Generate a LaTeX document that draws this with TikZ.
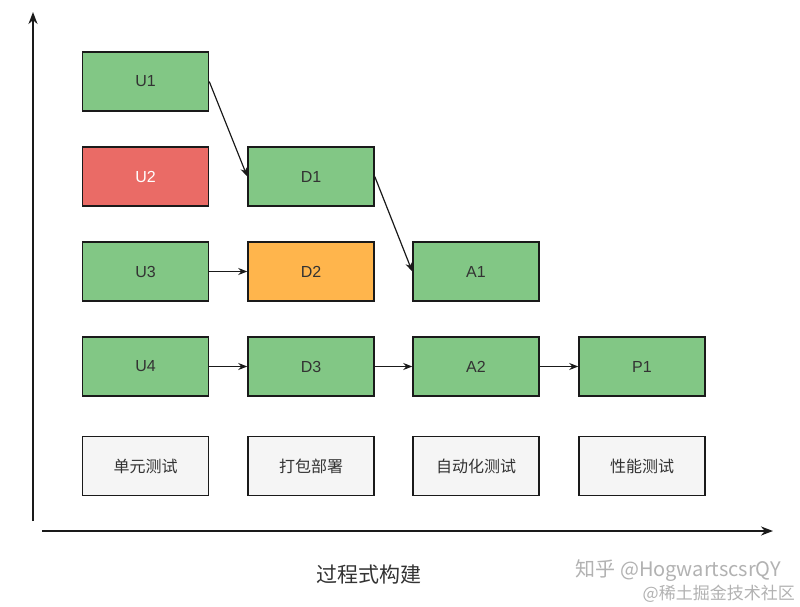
\documentclass[tikz,border=0pt]{standalone}
\usepackage{fontspec}
\setmainfont{Liberation Sans}
\newfontfamily\cjk{Noto Sans CJK SC}
\newfontfamily\cjkserif{Noto Sans CJK SC}
\usetikzlibrary{arrows.meta}
\definecolor{boxgreen}{HTML}{82C785}
\definecolor{boxred}{HTML}{EA6B66}
\definecolor{boxorange}{HTML}{FFB54C}
\definecolor{boxgray}{HTML}{F5F5F5}
\definecolor{txt}{HTML}{333333}
\definecolor{edge}{HTML}{1A1A1A}
\begin{document}
\begin{tikzpicture}[x=1pt,y=-1pt,
  stagebox/.style={draw=edge,line width=1.5pt,minimum width=126pt,minimum height=59pt,inner sep=0pt,text=txt,font=\fontsize{16}{18}\selectfont},
  okbox/.style={stagebox,fill=boxgreen},
  badbox/.style={stagebox,fill=boxred,text=white},
  warnbox/.style={stagebox,fill=boxorange},
  phasebox/.style={stagebox,fill=boxgray,font=\fontsize{16}{18}\selectfont\cjk},
  flow/.style={draw=edge,line width=1.2pt,-{Stealth[length=9pt,width=7pt]}},
  axisline/.style={draw=edge,line width=2pt,-{Stealth[length=12pt,width=9pt]}},
  wmark/.style={text=black!30,inner sep=0pt,anchor=east}
]
\useasboundingbox (0,0) rectangle (800,607);
\fill[white] (0,0) rectangle (800,607);
% axes
\coordinate (yb) at (33,521);
\coordinate (yt) at (33,12);
\coordinate (xl) at (42,531);
\coordinate (xr) at (773,531);
\draw[axisline] (yb) -- (yt);
\draw[axisline] (xl) -- (xr);
% boxes
\node[okbox]   (U1) at (145.5,81.5) {U1};
\node[badbox]  (U2) at (145.5,176.5) {U2};
\node[okbox]   (U3) at (145.5,271.5) {U3};
\node[okbox]   (U4) at (145.5,366.5) {U4};
\node[okbox]   (D1) at (311,176.5) {D1};
\node[warnbox] (D2) at (311,271.5) {D2};
\node[okbox]   (D3) at (311,366.5) {D3};
\node[okbox]   (A1) at (476,271.5) {A1};
\node[okbox]   (A2) at (476,366.5) {A2};
\node[okbox]   (P1) at (642,366.5) {P1};
\node[phasebox] (L1) at (145.5,466) {单元测试};
\node[phasebox] (L2) at (311,466) {打包部署};
\node[phasebox] (L3) at (476,466) {自动化测试};
\node[phasebox] (L4) at (642,466) {性能测试};
% connectors
\draw[flow] (U1.east) -- (D1.west);
\draw[flow] (D1.east) -- (A1.west);
\draw[flow] (U3) -- (D2);
\draw[flow] (U4) -- (D3);
\draw[flow] (D3) -- (A2);
\draw[flow] (A2) -- (P1);
% title
\node[text=txt,font=\fontsize{21}{24}\selectfont\cjk] (T) at (369,575) {过程式构建};
% watermark
\node[wmark,font=\fontsize{20}{22}\selectfont\cjk] (W1) at (781,571) {知乎 @HogwartscsrQY};
\node[wmark,font=\fontsize{17}{19}\selectfont\cjkserif] (W2) at (795,594) {@稀土掘金技术社区};
\end{tikzpicture}
\end{document}
